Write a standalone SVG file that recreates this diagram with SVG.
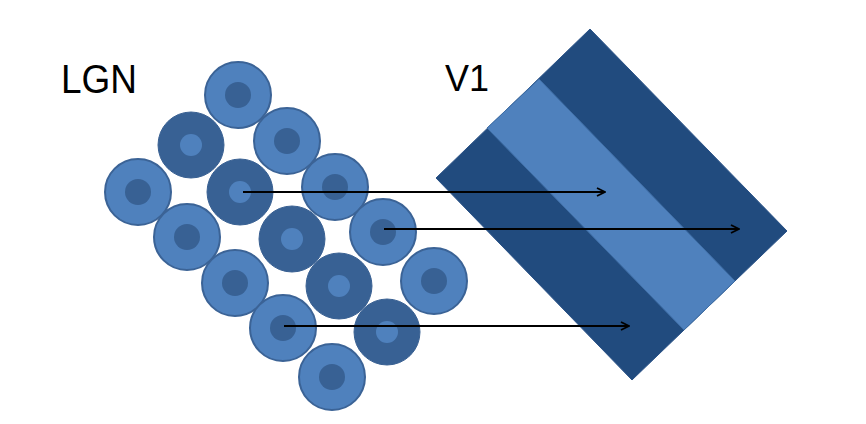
<svg xmlns="http://www.w3.org/2000/svg" width="866" height="424" viewBox="0 0 866 424">
<defs>
<style>
.lbl{font-family:"Liberation Sans",Arial,sans-serif;fill:#000}
.lo{fill:#4f81bd;stroke:#3b6396;stroke-width:2}
.li{fill:#386194}
.do{fill:#386194;stroke:#3a6193;stroke-width:1}
.di{fill:#4f81bd}
.dark{fill:#214b7e}
.light{fill:#4f81bd}
.conn{stroke:#000;stroke-width:2;fill:none}
</style>
<marker id="ah" viewBox="0 0 10 10" refX="9" refY="5" markerWidth="10" markerHeight="10" orient="auto" markerUnits="userSpaceOnUse">
<path d="M1,1 L9,5 L1,9" fill="none" stroke="#000" stroke-width="1.8"/>
</marker>
</defs>
<rect width="866" height="424" fill="#fff"/>
<text class="lbl" x="61" y="93" font-size="40" textLength="76" lengthAdjust="spacingAndGlyphs">LGN</text>
<text class="lbl" x="445" y="91" font-size="36" textLength="44" lengthAdjust="spacingAndGlyphs">V1</text>
<g id="v1">
<polygon class="dark" points="436,178 590,29 787,231 632,380" stroke="#2b5387" stroke-width="1"/>
<polygon class="light" points="487,128 539,79 735,281 684,330" stroke="#3f6ea5" stroke-width="1"/>
</g>
<g id="lgn">
<g id="c1"><circle class="lo" cx="238" cy="95" r="33"/><circle class="li" cx="238" cy="95" r="13"/></g>
<g id="c2"><circle class="do" cx="191" cy="145" r="33"/><circle class="di" cx="191" cy="145" r="11"/></g>
<g id="c3"><circle class="lo" cx="287" cy="141" r="33"/><circle class="li" cx="287" cy="141" r="13"/></g>
<g id="c4"><circle class="lo" cx="138" cy="192" r="33"/><circle class="li" cx="138" cy="192" r="13"/></g>
<g id="c5"><circle class="do" cx="240" cy="192" r="33"/><circle class="di" cx="240" cy="192" r="11"/></g>
<g id="c6"><circle class="lo" cx="335" cy="187" r="33"/><circle class="li" cx="335" cy="187" r="13"/></g>
<g id="c7"><circle class="lo" cx="187" cy="237" r="33"/><circle class="li" cx="187" cy="237" r="13"/></g>
<g id="c8"><circle class="do" cx="292" cy="239" r="33"/><circle class="di" cx="292" cy="239" r="11"/></g>
<g id="c9"><circle class="lo" cx="383" cy="232" r="33"/><circle class="li" cx="383" cy="232" r="13"/></g>
<g id="c10"><circle class="lo" cx="235" cy="283" r="33"/><circle class="li" cx="235" cy="283" r="13"/></g>
<g id="c11"><circle class="do" cx="339" cy="286" r="33"/><circle class="di" cx="339" cy="286" r="11"/></g>
<g id="c12"><circle class="lo" cx="434" cy="281" r="33"/><circle class="li" cx="434" cy="281" r="13"/></g>
<g id="c13"><circle class="lo" cx="283" cy="328" r="33"/><circle class="li" cx="283" cy="328" r="13"/></g>
<g id="c14"><circle class="do" cx="387" cy="332" r="33"/><circle class="di" cx="387" cy="332" r="11"/></g>
<g id="c15"><circle class="lo" cx="332" cy="377" r="33"/><circle class="li" cx="332" cy="377" r="13"/></g>
</g>
<g id="connectors">
<line class="conn" x1="243" y1="192" x2="605" y2="192" marker-end="url(#ah)"/>
<line class="conn" x1="384" y1="229" x2="739" y2="229" marker-end="url(#ah)"/>
<line class="conn" x1="284" y1="326" x2="629" y2="326" marker-end="url(#ah)"/>
</g>
</svg>
